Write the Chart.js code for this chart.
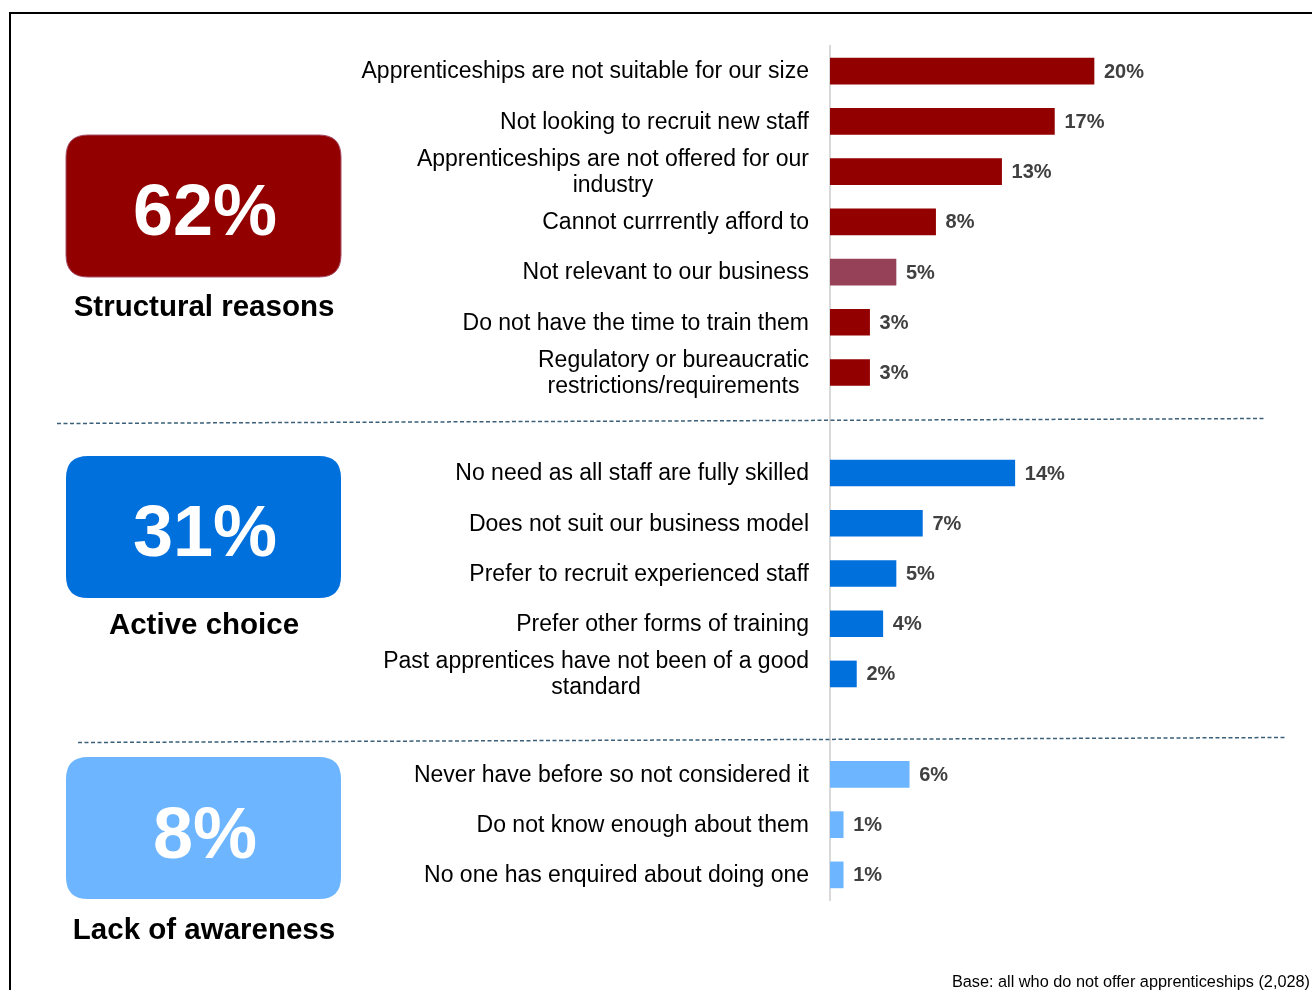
<!DOCTYPE html>
<html>
<head>
<meta charset="utf-8">
<script src="https://cdn.jsdelivr.net/npm/chart.js@4.4.1/dist/chart.umd.min.js"></script>
<style>
  html, body { margin: 0; padding: 0; background: #ffffff; }
  #wrap { width: 1312px; height: 990px; position: relative; }
</style>
</head>
<body>
<div id="wrap"><canvas id="c" width="1312" height="990"></canvas></div>
<script>
// ---- data ----
const categories = [
  ['Apprenticeships are not suitable for our size'],
  ['Not looking to recruit new staff'],
  ['Apprenticeships are not offered for our', 'industry'],
  ['Cannot currrently afford to'],
  ['Not relevant to our business'],
  ['Do not have the time to train them'],
  ['Regulatory or bureaucratic', 'restrictions/requirements'],
  [''],
  ['No need as all staff are fully skilled'],
  ['Does not suit our business model'],
  ['Prefer to recruit experienced staff'],
  ['Prefer other forms of training'],
  ['Past apprentices have not been of a good', 'standard'],
  [''],
  ['Never have before so not considered it'],
  ['Do not know enough about them'],
  ['No one has enquired about doing one']
];
const values = [20, 17, 13, 8, 5, 3, 3, null, 14, 7, 5, 4, 2, null, 6, 1, 1];
const barGroups = [0, 0, 0, 0, 0, 0, 0, -1, 1, 1, 1, 1, 1, -1, 2, 2, 2];
const groupTotals = [62, 31, 8];
const groupNames = ['Structural reasons', 'Active choice', 'Lack of awareness'];
const groupColors = ['#930000', '#0070DD', '#6DB6FF'];
const highlightIndex = 4;            // "Not relevant to our business" bar shown in muted tone
const highlightColor = '#964158';
const footnote = 'Base: all who do not offer apprenticeships (2,028)';

const FONT = "'Liberation Sans', Arial, Helvetica, sans-serif";

const barColors = values.map((v, i) => {
  if (i === highlightIndex) return highlightColor;
  const g = barGroups[i];
  return g >= 0 ? groupColors[g] : 'rgba(0,0,0,0)';
});

function roundRect(ctx, x, y, w, h, r) {
  ctx.beginPath();
  ctx.moveTo(x + r, y);
  ctx.lineTo(x + w - r, y);
  ctx.quadraticCurveTo(x + w, y, x + w, y + r);
  ctx.lineTo(x + w, y + h - r);
  ctx.quadraticCurveTo(x + w, y + h, x + w - r, y + h);
  ctx.lineTo(x + r, y + h);
  ctx.quadraticCurveTo(x, y + h, x, y + h - r);
  ctx.lineTo(x, y + r);
  ctx.quadraticCurveTo(x, y, x + r, y);
  ctx.closePath();
}

const decorPlugin = {
  id: 'decor',
  afterDraw(chart) {
    const ctx = chart.ctx;
    const yScale = chart.scales.y;
    const meta = chart.getDatasetMeta(0);
    ctx.save();

    // outer frame
    ctx.strokeStyle = '#000000';
    ctx.lineWidth = 2;
    ctx.strokeRect(10, 13, 1340, 1020);

    // category labels
    ctx.fillStyle = '#000000';
    ctx.font = '23px ' + FONT;
    ctx.textBaseline = 'middle';
    ctx.textAlign = 'center';
    const rightEdge = 809;
    const lineH = 26;
    categories.forEach((lines, i) => {
      if (!lines[0]) return;
      const yc = yScale.getPixelForValue(i) + 1;
      const w = Math.max(...lines.map(l => ctx.measureText(l).width));
      const cx = rightEdge - w / 2;
      const y0 = yc - (lines.length - 1) * lineH / 2;
      lines.forEach((l, k) => ctx.fillText(l, cx, y0 + k * lineH));
    });

    // value labels
    ctx.font = 'bold 20px ' + FONT;
    ctx.fillStyle = '#404040';
    ctx.textAlign = 'left';
    meta.data.forEach((bar, i) => {
      if (values[i] == null) return;
      ctx.fillText(values[i] + '%', bar.x + 10, bar.y + 1);
    });

    // group boxes
    const boxTops = [135, 456, 757];
    const numBaselines = [235, 556, 858];
    const titleBaselines = [316, 634, 939];
    for (let g = 0; g < 3; g++) {
      roundRect(ctx, 66, boxTops[g], 275, 142, 22);
      ctx.fillStyle = groupColors[g];
      ctx.fill();
      if (g === 0) {
        ctx.strokeStyle = '#a5506a';
        ctx.lineWidth = 1;
        ctx.stroke();
      }
      ctx.fillStyle = '#ffffff';
      ctx.font = 'bold 72px ' + FONT;
      ctx.textAlign = 'center';
      ctx.textBaseline = 'alphabetic';
      ctx.fillText(groupTotals[g] + '%', 205, numBaselines[g]);
      ctx.fillStyle = '#000000';
      ctx.font = 'bold 29.5px ' + FONT;
      ctx.fillText(groupNames[g], 204, titleBaselines[g]);
    }

    // dashed separators
    ctx.strokeStyle = '#3a5f78';
    ctx.lineWidth = 1.5;
    ctx.setLineDash([4, 2.5]);
    ctx.beginPath();
    ctx.moveTo(57, 423.5); ctx.lineTo(1265, 418.5);
    ctx.moveTo(78, 742.5); ctx.lineTo(1287, 737.5);
    ctx.stroke();
    ctx.setLineDash([]);

    // footnote
    ctx.fillStyle = '#000000';
    ctx.font = '16.3px ' + FONT;
    ctx.textAlign = 'right';
    ctx.textBaseline = 'alphabetic';
    ctx.fillText(footnote, 1310, 987);

    ctx.restore();
  }
};

new Chart(document.getElementById('c'), {
  type: 'bar',
  data: {
    labels: categories.map(l => l.join(' ')),
    datasets: [{
      data: values,
      backgroundColor: barColors,
      borderWidth: 0,
      barThickness: 26
    }]
  },
  options: {
    indexAxis: 'y',
    responsive: false,
    devicePixelRatio: 1,
    animation: false,
    layout: { padding: { left: 822, right: 86, top: 46, bottom: 90 } },
    plugins: { legend: { display: false }, tooltip: { enabled: false } },
    scales: {
      x: { min: 0, max: 30, display: false },
      y: {
        display: true,
        ticks: { display: false },
        grid: { display: false },
        border: { display: true, color: '#d9d9d9', width: 2 }
      }
    }
  },
  plugins: [decorPlugin]
});
</script>
</body>
</html>
